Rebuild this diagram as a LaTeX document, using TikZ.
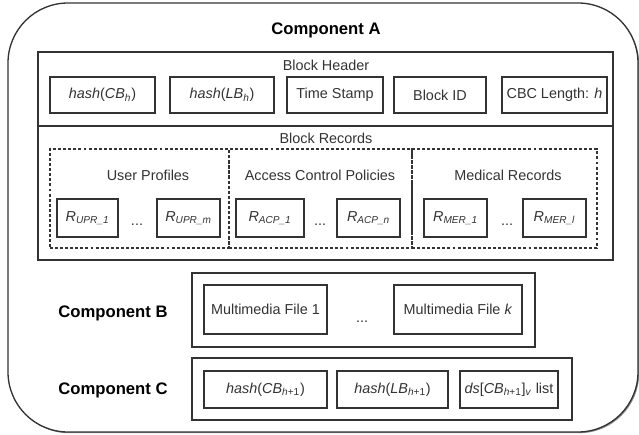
\documentclass[tikz,border=0pt]{standalone}
\usepackage{fontspec}
\setmainfont{Liberation Sans}
\usetikzlibrary{shadows}
\definecolor{linec}{HTML}{333333}
\definecolor{txt}{HTML}{333333}
% style, name, x1, y1, x2, y2, text
\newcommand{\rbx}[7]{\node[#1, minimum width={(#5-#3)*0.75pt}, minimum height={(#6-#4)*0.75pt}, anchor=center] (#2) at ({(#3+#5)/2},{(#4+#6)/2}) {#7};}
\begin{document}
\begin{tikzpicture}[x=0.75pt,y=-0.75pt,
  box/.style={draw=linec, line width=0.9pt, inner sep=0pt, outer sep=0pt, fill=white, text=txt, font=\fontsize{10.8}{13}\selectfont},
  bigbox/.style={draw=linec, line width=1pt, inner sep=0pt, outer sep=0pt, fill=white},
  shad/.style={drop shadow={shadow xshift=0.9pt,shadow yshift=-0.9pt,fill=black!55,opacity=0.8}},
  dbox/.style={draw=linec, line width=0.8pt, dash pattern=on 2.2pt off 1.6pt, inner sep=0pt, outer sep=0pt},
  lbl/.style={text=txt, font=\fontsize{10.8}{13}\selectfont, inner sep=0pt},
  ttl/.style={font=\bfseries\fontsize{12.5}{15}\selectfont, text=black, inner sep=0pt},
  dots/.style={text=txt, font=\fontsize{10.8}{13}\selectfont, inner sep=0pt, anchor=base}
]
\useasboundingbox (0,0) rectangle (639,435);
% outer component A
\rbx{bigbox, shad, rounded corners=45pt}{compA}{8}{3}{638}{432}{}
\node[ttl] (tA) at (326,30) {Component A};
% block
\rbx{bigbox, shad}{block}{38}{52}{613}{260}{}
\coordinate (dl) at (38,126);
\coordinate (dr) at (613,126);
\draw[draw=linec, line width=1pt] (dl) -- (dr);
\node[lbl] (bh) at (326,65) {Block Header};
\rbx{box}{h1}{50}{77}{155}{113}{\textit{hash}(\textit{CB}\textsubscript{\textit{h}})}
\rbx{box}{h2}{170}{77}{274}{113}{\textit{hash}(\textit{LB}\textsubscript{\textit{h}})}
\rbx{box}{h3}{287}{77}{383}{113}{Time Stamp}
\rbx{box}{h4}{394}{77}{486}{113}{Block ID}
\rbx{box}{h5}{502}{77}{607}{113}{CBC Length: \textit{h}}
\node[lbl] (br) at (326,138) {Block Records};
% dashed groups
\rbx{dbox}{g1}{50}{149}{229}{248}{}
\rbx{dbox}{g2}{229}{149}{412}{248}{}
\rbx{dbox}{g3}{412}{149}{597}{248}{}
\node[lbl] (t1) at (148,175) {User Profiles};
\node[lbl] (t2) at (320,175) {Access Control Policies};
\node[lbl] (t3) at (508,175) {Medical Records};
\rbx{box}{r1}{57}{199}{118}{237}{\textit{R}\textsubscript{\textit{UPR\_1}}}
\node[dots] (d1) at (137,225) {...};
\rbx{box}{r2}{157}{199}{220}{237}{\textit{R}\textsubscript{\textit{UPR\_m}}}
\rbx{box}{r3}{236}{199}{304}{237}{\textit{R}\textsubscript{\textit{ACP\_1}}}
\node[dots] (d2) at (320,225) {...};
\rbx{box}{r4}{337}{199}{400}{237}{\textit{R}\textsubscript{\textit{ACP\_n}}}
\rbx{box}{r5}{424}{199}{487}{237}{\textit{R}\textsubscript{\textit{MER\_1}}}
\node[dots] (d3) at (507,225) {...};
\rbx{box}{r6}{523}{199}{586}{237}{\textit{R}\textsubscript{\textit{MER\_l}}}
% component B
\node[ttl] (tB) at (113,313) {Component B};
\rbx{box}{compB}{192}{273}{535}{347}{}
\rbx{box}{m1}{204}{285}{327}{334}{Multimedia File 1}
\node[dots] (d4) at (362,322) {...};
\rbx{box}{m2}{394}{285}{522}{334}{Multimedia File \textit{k}}
% component C
\node[ttl] (tC) at (113,390) {Component C};
\rbx{box}{compC}{192}{358}{572}{420}{}
\rbx{box}{c1}{204}{371}{327}{408}{\textit{hash}(\textit{CB}\textsubscript{\textit{h}+1})}
\rbx{box}{c2}{337}{371}{448}{408}{\textit{hash}(\textit{LB}\textsubscript{\textit{h}+1})}
\rbx{box}{c3}{460}{371}{558}{408}{\textit{ds}[\textit{CB}\textsubscript{\textit{h}+1}]\textsubscript{\textit{v}} list}
\end{tikzpicture}
\end{document}
